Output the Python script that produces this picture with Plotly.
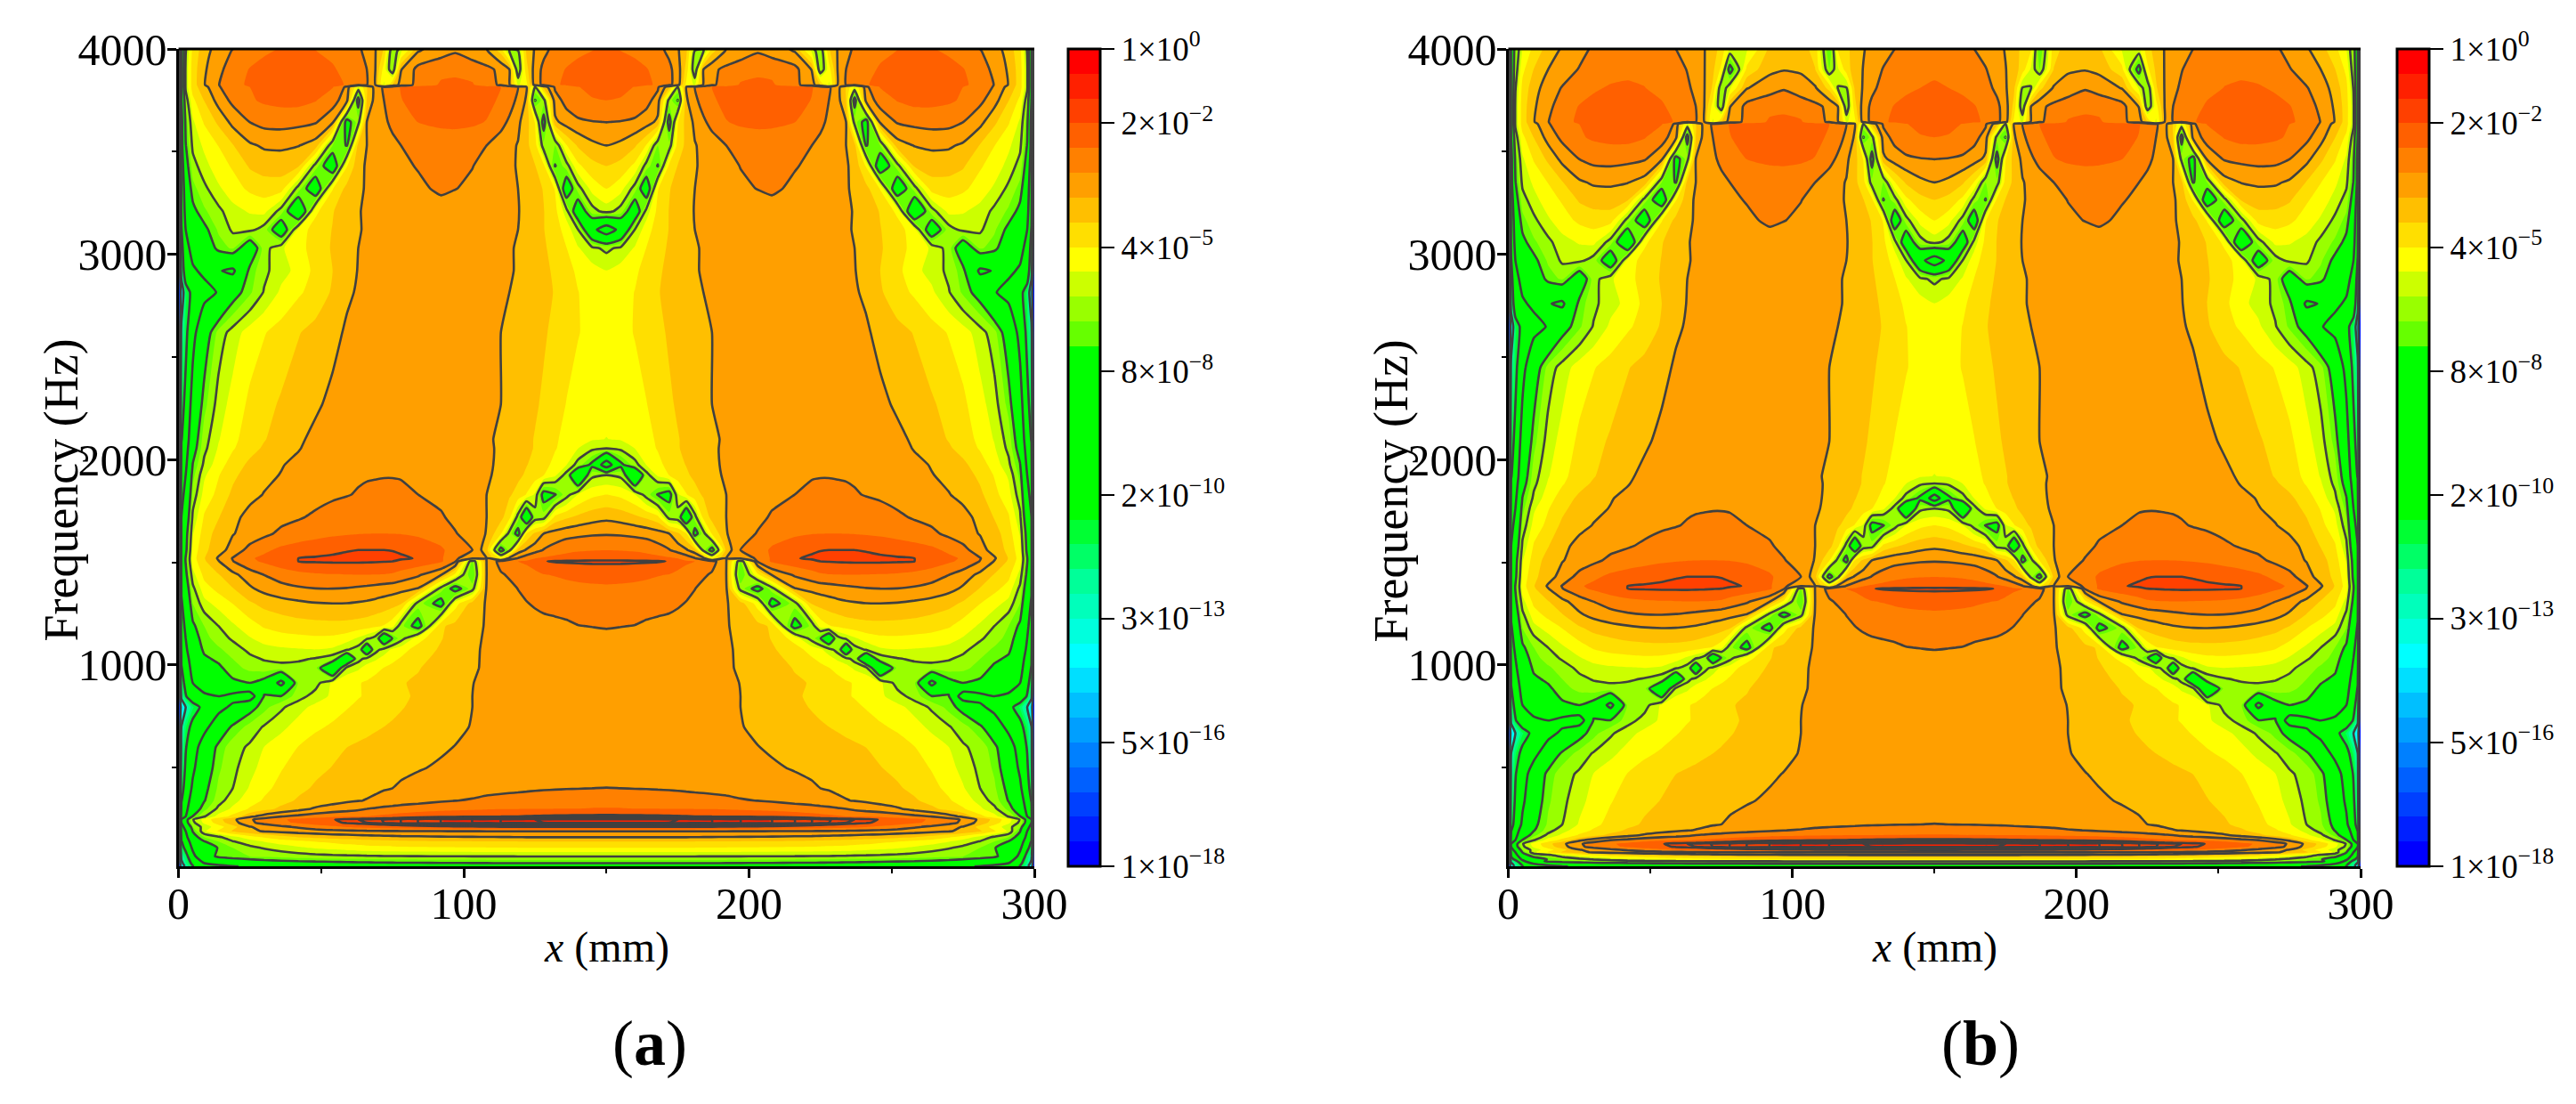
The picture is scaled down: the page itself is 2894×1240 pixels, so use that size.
import numpy as np
import plotly.graph_objects as go

# x positions (mm) of the table columns, left half of the plate; the field is symmetric about 150 mm
x_half = [0, 1, 2.5, 5, 9, 14, 19, 25, 30, 36, 42, 48, 54, 59, 63, 66, 69, 72, 75, 78, 84, 92, 97, 103, 108, 113,
          116, 119, 122, 125, 128, 132, 136, 140, 145, 150]

# frequency of each table row, top to bottom, read separately for the two panels
freq_a = [4180, 4080, 3990, 3900, 3825, 3815, 3750, 3645, 3530, 3430, 3320, 3210, 3120, 3030, 2920, 2815, 2620, 2270,
          2100, 2055, 1975, 1925, 1830, 1720, 1640, 1560, 1520, 1505, 1440, 1372, 1300, 1190, 1130, 1075, 1030, 986, 913,
          848, 795, 700, 600, 500, 400, 340, 300, 263, 248, 232, 212, 191, 162, 140, 110, 68, 35, 20]
freq_b = [4000, 3900, 3810, 3720, 3645, 3635, 3570, 3465, 3350, 3265, 3165, 3060, 2970, 2880, 2760, 2648, 2450, 2090,
          1920, 1884, 1812, 1762, 1680, 1580, 1510, 1430, 1385, 1372, 1310, 1245, 1180, 1085, 1035, 985, 932, 885, 805,
          730, 668, 570, 470, 340, 224, 195, 172, 148, 130, 115, 100, 88, 75, 64, 54, 44, 32, 20]

log_amp = [
    [-18, -8, -6, -4.9, -4.2, -3.6, -3.2, -2.9, -2.65, -2.5, -2.4, -2.35, -2.5, -2.73, -2.95, -3.1, -3.25, -3.6, -4, -5, -5, -3.7, -3.5, -3.6, -4, -6.5, -4.3, -3.95, -3.6, -3.3, -3.12, -2.93, -2.73, -2.6, -2.5, -2.42],
    [-18, -8, -5.8, -4.5, -3.8, -3.27, -2.98, -2.7, -2.5, -2.4, -2.3, -2.3, -2.4, -2.55, -2.75, -3, -3.25, -3.7, -4.5, -7, -4.2, -3.4, -3.3, -3.35, -3.8, -6, -5, -4.1, -3.5, -3.25, -3, -2.7, -2.5, -2.4, -2.3, -2.27],
    [-18, -8, -5.5, -4.2, -3.5, -2.98, -2.7, -2.45, -2.26, -2.12, -2.1, -2.17, -2.35, -2.5, -2.65, -2.85, -3.25, -3.9, -6, -5, -3.3, -2.95, -2.78, -3, -3.2, -4, -5.5, -5.5, -3.7, -3.2, -2.85, -2.55, -2.4, -2.3, -2.18, -2.12],
    [-18, -8, -5.3, -4.1, -3.35, -2.85, -2.5, -2.15, -2, -1.9, -1.88, -1.92, -2.1, -2.4, -2.6, -2.73, -3.27, -4.6, -6, -3.3, -2.55, -2.35, -2.32, -2.45, -2.6, -2.85, -3.27, -6, -4, -3, -2.6, -2.35, -2.15, -2, -1.92, -1.9],
    [-18, -8, -5.3, -4.1, -3.3, -2.75, -2.35, -2.1, -1.95, -1.85, -1.85, -1.9, -2.05, -2.22, -2.5, -2.7, -3.27, -5, -3.8, -3, -2.6, -2.1, -2.05, -2.12, -2.55, -2.8, -3.2, -5, -4.5, -3, -2.6, -2.25, -2.1, -2, -1.9, -1.85],
    [-18, -8, -5.3, -4.1, -3.45, -2.78, -2.4, -2.18, -2.05, -1.95, -1.9, -1.95, -2.15, -2.85, -5, -3.8, -3.05, -2.65, -2.4, -2.15, -1.95, -1.85, -1.85, -1.9, -2, -2.18, -2.45, -2.73, -3.27, -5.5, -3.6, -2.65, -2.4, -2.2, -2.05, -2],
    [-18, -8.5, -5.8, -4.5, -3.8, -3.05, -2.6, -2.25, -2.1, -2.02, -2, -2.15, -2.5, -3.05, -7, -3.8, -3.05, -2.73, -2.45, -2.2, -2, -1.95, -1.95, -2, -2.05, -2.25, -2.5, -2.85, -3.35, -6.6, -5.7, -2.95, -2.55, -2.35, -2.22, -2.18],
    [-18, -9, -6.3, -5, -4.3, -3.7, -3.1, -2.72, -2.55, -2.52, -2.58, -2.68, -3.1, -7, -5.7, -3.27, -3, -2.82, -2.62, -2.45, -2.17, -2.08, -2.07, -2.1, -2.2, -2.55, -2.82, -3.15, -3.6, -4.4, -7, -3.4, -3, -2.82, -2.75, -2.72],
    [-18, -9, -6.6, -5.3, -4.8, -4.35, -3.85, -3.35, -3.2, -3.18, -3.25, -3.5, -6, -6.6, -3.6, -3.27, -3.15, -3, -2.85, -2.73, -2.55, -2.45, -2.43, -2.5, -2.73, -3, -3.15, -3.3, -3.7, -4.1, -5.8, -6, -4.4, -3.75, -3.4, -3.27],
    [-18, -9.5, -7, -5.7, -5.1, -4.6, -4.3, -3.75, -3.58, -3.55, -3.75, -5.7, -7.5, -4.4, -3.45, -3.2, -3.1, -3, -2.92, -2.82, -2.7, -2.6, -2.62, -2.72, -2.85, -3.1, -3.2, -3.3, -3.55, -3.8, -4.2, -6.6, -5.7, -4.5, -4, -3.82],
    [-18, -10, -7.5, -6.2, -5.6, -5, -4.6, -4.25, -4.1, -4.12, -5.7, -7.5, -4.4, -3.65, -3.4, -3.2, -3.12, -3.05, -3, -2.95, -2.82, -2.65, -2.72, -2.8, -2.95, -3.1, -3.2, -3.27, -3.45, -3.65, -3.85, -4.4, -7.5, -5.7, -4.7, -4.36],
    [-18, -10, -8, -6.8, -6.1, -5.6, -5.1, -4.85, -4.75, -5.7, -8, -4.5, -3.85, -3.55, -3.3, -3.2, -3.15, -3.12, -3.08, -3.03, -2.97, -2.92, -2.94, -3, -3.05, -3.15, -3.2, -3.25, -3.4, -3.6, -3.8, -4.2, -5.2, -7.5, -5.7, -5.2],
    [-18, -10.5, -8.5, -7.4, -6.8, -5.9, -5.35, -5.3, -5.7, -7.5, -4.7, -4.1, -3.8, -3.5, -3.3, -3.22, -3.18, -3.15, -3.12, -3.09, -3.04, -3, -3.02, -3.05, -3.1, -3.17, -3.22, -3.27, -3.42, -3.6, -3.8, -4.1, -4.6, -5.4, -8, -9.5],
    [-18, -11, -9, -8, -7.4, -6.3, -5.9, -7.5, -5.7, -5, -4.5, -4.2, -3.75, -3.5, -3.27, -3.25, -3.22, -3.19, -3.16, -3.13, -3.09, -3.06, -3.08, -3.1, -3.12, -3.2, -3.24, -3.3, -3.44, -3.6, -3.75, -4, -4.35, -4.85, -5.3, -5.6],
    [-18, -11.5, -9.5, -8.7, -8.2, -8.4, -8.8, -6.3, -5.6, -5.1, -4.75, -4.2, -3.82, -3.45, -3.25, -3.2, -3.18, -3.16, -3.14, -3.12, -3.1, -3.08, -3.09, -3.11, -3.14, -3.2, -3.24, -3.3, -3.42, -3.55, -3.7, -3.9, -4.2, -4.45, -4.7, -4.9],
    [-18, -14, -11, -10, -9, -8.4, -7, -6.1, -5.4, -4.8, -4.45, -4.15, -3.75, -3.35, -3.22, -3.19, -3.17, -3.15, -3.13, -3.12, -3.1, -3.08, -3.1, -3.12, -3.15, -3.22, -3.27, -3.32, -3.42, -3.55, -3.68, -3.85, -4.1, -4.35, -4.55, -4.65],
    [-18, -12, -10.8, -9, -7.2, -5.8, -5.2, -4.65, -4.4, -4.15, -3.85, -3.65, -3.42, -3.2, -3.15, -3.12, -3.11, -3.1, -3.09, -3.08, -3.07, -3.06, -3.07, -3.1, -3.15, -3.27, -3.36, -3.45, -3.55, -3.65, -3.75, -3.95, -4.15, -4.33, -4.55, -4.65],
    [-18, -11, -10, -7.8, -6.2, -5.2, -4.7, -4.25, -4, -3.75, -3.55, -3.35, -3.15, -3.08, -3.05, -3.04, -3.03, -3.02, -3.01, -3, -3, -3, -3.04, -3.1, -3.2, -3.27, -3.4, -3.5, -3.6, -3.75, -3.9, -4.15, -4.38, -4.6, -4.7, -4.75],
    [-18, -10.5, -9.5, -7.2, -5.7, -4.95, -4.5, -4.1, -3.85, -3.6, -3.35, -3.15, -3, -2.95, -2.93, -2.92, -2.91, -2.9, -2.9, -2.9, -2.92, -2.95, -2.98, -3.05, -3.2, -3.35, -3.5, -3.6, -3.7, -3.85, -4, -4.3, -4.5, -4.7, -4.85, -4.92],
    [-18, -10.2, -9.2, -7, -5.6, -4.85, -4.42, -4, -3.75, -3.5, -3.3, -3.1, -2.95, -2.88, -2.86, -2.85, -2.84, -2.83, -2.83, -2.84, -2.86, -2.9, -2.95, -3.03, -3.18, -3.35, -3.5, -3.6, -3.72, -3.85, -4.05, -4.32, -4.6, -4.9, -5.3, -5.45],
    [-18, -9.8, -8.8, -6.5, -5.3, -4.6, -4.1, -3.7, -3.5, -3.3, -3.15, -3, -2.88, -2.8, -2.77, -2.76, -2.75, -2.74, -2.74, -2.75, -2.78, -2.85, -2.92, -3, -3.2, -3.35, -3.5, -3.62, -3.8, -3.95, -4.15, -4.55, -4.9, -5.7, -6.8, -9.5],
    [-18, -9.5, -8.5, -6.2, -5, -4.4, -3.95, -3.55, -3.38, -3.25, -3.08, -2.95, -2.85, -2.8, -2.78, -2.77, -2.76, -2.75, -2.75, -2.76, -2.8, -2.88, -2.95, -3.05, -3.2, -3.4, -3.55, -3.7, -3.9, -4.1, -4.35, -4.8, -5.7, -8.5, -5.6, -5.45],
    [-18, -9, -8, -5.8, -4.7, -4.2, -3.7, -3.4, -3.25, -3.1, -3, -2.9, -2.8, -2.75, -2.7, -2.65, -2.63, -2.62, -2.62, -2.64, -2.73, -2.85, -2.95, -3.08, -3.27, -3.55, -3.75, -4, -4.4, -5, -7, -6.6, -5.7, -4.9, -4.5, -4.36],
    [-18, -8.5, -7.5, -5.3, -4.3, -3.85, -3.4, -3.12, -3, -2.88, -2.78, -2.65, -2.55, -2.5, -2.47, -2.45, -2.44, -2.44, -2.45, -2.47, -2.55, -2.68, -2.85, -3.07, -3.27, -3.65, -4.2, -5.7, -8, -5.8, -5.7, -4.2, -3.9, -3.7, -3.5, -3.4],
    [-18, -8.2, -7, -4.95, -4.1, -3.6, -3.3, -3.05, -2.85, -2.62, -2.48, -2.38, -2.28, -2.23, -2.2, -2.19, -2.18, -2.18, -2.19, -2.2, -2.28, -2.43, -2.7, -2.96, -3.3, -4.3, -5.7, -7, -4.3, -3.7, -3.27, -3.05, -2.92, -2.86, -2.8, -2.78],
    [-18, -8, -6.8, -4.7, -3.95, -3.5, -3.05, -2.55, -2.3, -2.05, -1.92, -1.82, -1.72, -1.66, -1.64, -1.64, -1.64, -1.64, -1.65, -1.68, -1.8, -2.1, -2.42, -2.73, -3.6, -7, -5.7, -3.6, -3.2, -2.95, -2.7, -2.5, -2.33, -2.25, -2.21, -2.19],
    [-18, -7.8, -6.5, -4.6, -3.85, -3.2, -2.7, -2.25, -2.05, -1.8, -1.64, -1.6, -1.58, -1.57, -1.57, -1.57, -1.57, -1.57, -1.58, -1.6, -1.66, -2.1, -2.65, -3.05, -3.27, -4.5, -3.1, -2.7, -2.45, -2.2, -2.1, -2, -1.95, -1.9, -1.85, -1.85],
    [-18, -7.8, -6.5, -4.65, -3.9, -3.3, -2.75, -2.3, -2.1, -1.85, -1.64, -1.6, -1.58, -1.58, -1.58, -1.59, -1.6, -1.62, -1.64, -1.7, -1.85, -2.1, -2.65, -6, -3.25, -2.5, -2.3, -2.18, -2.1, -1.95, -1.66, -1.6, -1.58, -1.57, -1.56, -1.56],
    [-18, -8, -6.8, -5.1, -4.2, -3.85, -3.4, -3, -2.72, -2.5, -2.35, -2.25, -2.21, -2.19, -2.18, -2.18, -2.19, -2.2, -2.25, -2.4, -2.65, -3.2, -4.5, -6.5, -3.27, -2.8, -2.65, -2.5, -2.4, -2.3, -2.2, -2.15, -2.08, -2.02, -1.97, -1.95],
    [-18, -8.3, -7.2, -5.6, -4.6, -4.2, -3.85, -3.35, -3.1, -2.9, -2.8, -2.74, -2.73, -2.76, -2.82, -2.87, -2.93, -3, -3.05, -3.12, -3.3, -5.7, -7, -5.7, -3.2, -3.05, -2.88, -2.72, -2.62, -2.52, -2.45, -2.4, -2.36, -2.33, -2.3, -2.28],
    [-18, -8.7, -7.6, -6, -5.1, -4.7, -4.35, -3.9, -3.65, -3.5, -3.38, -3.3, -3.27, -3.28, -3.32, -3.36, -3.42, -3.5, -3.6, -3.75, -5.7, -7, -4.6, -3.6, -3.22, -3.05, -2.97, -2.85, -2.75, -2.68, -2.62, -2.58, -2.55, -2.53, -2.52, -2.5],
    [-18, -9.2, -8.2, -6.7, -6, -5.45, -5, -4.6, -4.3, -4.15, -4.05, -4, -3.98, -4, -4.05, -4.12, -4.25, -4.4, -4.7, -5.8, -7, -3.9, -3.65, -3.45, -3.22, -3.1, -3.05, -3, -2.95, -2.9, -2.87, -2.84, -2.8, -2.74, -2.72, -2.7],
    [-18, -9.5, -8.5, -7, -6.2, -5.75, -5.35, -4.95, -4.7, -4.55, -4.5, -4.45, -4.48, -4.65, -5, -5.3, -5.7, -8, -6.5, -5.7, -4.6, -3.85, -3.6, -3.4, -3.2, -3.1, -3.06, -3.03, -2.99, -2.95, -2.93, -2.9, -2.87, -2.85, -2.84, -2.83],
    [-18, -9.8, -8.8, -7.3, -6.4, -6.1, -5.75, -5.3, -5.1, -5, -4.95, -4.92, -5, -5.4, -5.7, -8, -5.7, -5.2, -4.8, -4.6, -4.1, -3.75, -3.55, -3.35, -3.2, -3.1, -3.07, -3.04, -3.02, -3, -2.98, -2.96, -2.94, -2.93, -2.92, -2.92],
    [-18, -10.2, -9.2, -7.6, -6.7, -6.4, -6, -5.6, -5.4, -5.3, -5.35, -5.5, -5.8, -8.5, -5.7, -5.2, -5, -4.7, -4.5, -4.3, -3.97, -3.65, -3.5, -3.34, -3.2, -3.11, -3.08, -3.05, -3.03, -3.02, -3, -2.99, -2.97, -2.97, -2.96, -2.96],
    [-18, -10.5, -9.5, -7.9, -7, -6.7, -6.2, -5.85, -5.7, -5.65, -5.7, -5.8, -8.5, -5.2, -5, -4.7, -4.5, -4.35, -4.2, -4.1, -3.85, -3.6, -3.45, -3.33, -3.2, -3.12, -3.09, -3.07, -3.05, -3.04, -3.03, -3.02, -3.01, -3, -3, -3],
    [-18, -11, -10, -8.5, -7.6, -7.2, -6.7, -6.55, -6.9, -9, -5.9, -5.7, -4.8, -4.55, -4.4, -4.3, -4.2, -4.05, -3.95, -3.85, -3.75, -3.5, -3.38, -3.28, -3.18, -3.13, -3.11, -3.1, -3.09, -3.08, -3.07, -3.06, -3.05, -3.05, -3.04, -3.04],
    [-18, -12, -10.5, -9.5, -8.8, -8.5, -9, -9.5, -6.5, -6.5, -5.7, -5.2, -4.8, -4.55, -4.4, -4.3, -4.2, -4.1, -4, -3.9, -3.75, -3.5, -3.38, -3.27, -3.2, -3.14, -3.12, -3.11, -3.1, -3.09, -3.08, -3.08, -3.07, -3.07, -3.06, -3.06],
    [-18, -14, -12.5, -11, -10, -9, -8.2, -6.9, -6.2, -5.55, -5.1, -4.75, -4.55, -4.4, -4.25, -4.15, -4.1, -4, -3.95, -3.85, -3.7, -3.5, -3.38, -3.27, -3.2, -3.15, -3.13, -3.12, -3.11, -3.1, -3.09, -3.09, -3.08, -3.08, -3.08, -3.08],
    [-18, -12.5, -11, -10, -9, -7.5, -6.4, -5.8, -5.4, -5.05, -4.7, -4.45, -4.3, -4.1, -4, -3.95, -3.88, -3.82, -3.75, -3.7, -3.6, -3.45, -3.35, -3.25, -3.2, -3.15, -3.13, -3.12, -3.11, -3.1, -3.09, -3.08, -3.08, -3.07, -3.06, -3.06],
    [-18, -12, -10.5, -9.3, -7.6, -6.3, -5.7, -5.35, -4.9, -4.6, -4.35, -4.15, -3.95, -3.82, -3.75, -3.7, -3.65, -3.6, -3.55, -3.5, -3.42, -3.32, -3.26, -3.2, -3.16, -3.13, -3.11, -3.1, -3.09, -3.08, -3.07, -3.07, -3.06, -3.06, -3.05, -3.05],
    [-18, -11.5, -10.2, -8.8, -7.2, -6.1, -5.6, -5.1, -4.7, -4.4, -4.15, -3.95, -3.8, -3.7, -3.6, -3.55, -3.5, -3.45, -3.4, -3.35, -3.3, -3.22, -3.18, -3.15, -3.12, -3.1, -3.09, -3.08, -3.07, -3.06, -3.06, -3.05, -3.05, -3.05, -3.04, -3.04],
    [-18, -11, -9.8, -8.2, -6.8, -5.9, -5.45, -4.85, -4.5, -4.2, -3.95, -3.75, -3.6, -3.48, -3.42, -3.38, -3.34, -3.3, -3.27, -3.22, -3.14, -3.06, -3.02, -2.98, -2.95, -2.93, -2.9, -2.88, -2.85, -2.82, -2.8, -2.78, -2.76, -2.75, -2.73, -2.72],
    [-18, -10.5, -9.2, -7.8, -6.6, -5.7, -5.1, -4.6, -4.3, -4, -3.75, -3.6, -3.45, -3.35, -3.29, -3.25, -3.2, -3.13, -3.07, -3, -2.92, -2.8, -2.74, -2.68, -2.58, -2.5, -2.47, -2.44, -2.41, -2.38, -2.36, -2.34, -2.32, -2.3, -2.28, -2.27],
    [-18, -10, -9, -7.2, -6.2, -5.3, -4.8, -4.3, -4, -3.7, -3.45, -3.2, -3.05, -2.95, -2.85, -2.73, -2.67, -2.6, -2.55, -2.5, -2.42, -2.33, -2.29, -2.26, -2.23, -2.21, -2.2, -2.2, -2.19, -2.19, -2.19, -2.18, -2.18, -2.18, -2.17, -2.17],
    [-18, -9.5, -8.5, -6.5, -5.5, -4.7, -4.2, -3.4, -3.05, -2.75, -2.6, -2.45, -2.32, -2.25, -2.22, -2.18, -2.12, -2.05, -2, -1.95, -1.85, -1.78, -1.75, -1.72, -1.7, -1.68, -1.66, -1.64, -1.62, -1.6, -1.58, -1.56, -1.55, -1.54, -1.53, -1.52],
    [-18, -8.5, -7, -5.5, -4.7, -4, -3.4, -2.8, -2.5, -2.25, -2.05, -1.85, -1.66, -1.55, -1.5, -1.47, -1.43, -1.39, -1.35, -1.3, -1.2, -1.1, -1.05, -1, -0.95, -0.9, -0.88, -0.85, -0.82, -0.8, -0.78, -0.76, -0.75, -0.74, -0.73, -0.72],
    [-18, -8.5, -7, -5.6, -4.8, -4.1, -3.5, -2.85, -2.55, -2.3, -2.1, -1.9, -1.72, -1.6, -1.53, -1.5, -1.45, -1.4, -1.36, -1.3, -1.2, -1.1, -1.05, -1, -0.95, -0.9, -0.88, -0.86, -0.84, -0.82, -0.8, -0.78, -0.77, -0.76, -0.75, -0.74],
    [-18, -9, -8, -6, -5.2, -4.6, -4, -3.3, -3.1, -2.85, -2.65, -2.45, -2.3, -2.15, -2.05, -2, -1.95, -1.9, -1.88, -1.85, -1.8, -1.75, -1.72, -1.7, -1.68, -1.66, -1.65, -1.64, -1.64, -1.64, -1.64, -1.64, -1.63, -1.63, -1.62, -1.62],
    [-18, -9.5, -8.5, -6.5, -5, -4.3, -3.75, -3.4, -3.22, -3.12, -3.03, -2.95, -2.88, -2.85, -2.83, -2.8, -2.78, -2.77, -2.76, -2.75, -2.74, -2.73, -2.725, -2.72, -2.72, -2.72, -2.72, -2.72, -2.72, -2.72, -2.72, -2.72, -2.72, -2.72, -2.72, -2.72],
    [-18, -10, -9, -7, -6, -5.55, -5.1, -4.6, -4.3, -4, -3.8, -3.7, -3.6, -3.55, -3.5, -3.47, -3.45, -3.42, -3.4, -3.38, -3.36, -3.33, -3.31, -3.3, -3.29, -3.28, -3.28, -3.27, -3.26, -3.26, -3.26, -3.26, -3.26, -3.26, -3.26, -3.26],
    [-18, -10.5, -9.5, -7.6, -6.6, -6, -5.5, -5.15, -4.9, -4.65, -4.5, -4.35, -4.25, -4.15, -4.1, -4.05, -4.02, -4, -3.97, -3.95, -3.92, -3.89, -3.87, -3.86, -3.85, -3.84, -3.84, -3.83, -3.83, -3.83, -3.83, -3.82, -3.82, -3.82, -3.82, -3.82],
    [-18, -11, -10, -8.2, -7.1, -6.5, -6, -5.6, -5.4, -5.2, -5, -4.85, -4.75, -4.65, -4.6, -4.55, -4.52, -4.5, -4.48, -4.46, -4.44, -4.42, -4.41, -4.4, -4.39, -4.38, -4.38, -4.37, -4.37, -4.37, -4.37, -4.36, -4.36, -4.36, -4.36, -4.36],
    [-18, -12, -11, -9, -7, -6.4, -6.2, -6, -5.9, -5.8, -5.72, -5.65, -5.6, -5.57, -5.55, -5.53, -5.52, -5.5, -5.5, -5.49, -5.48, -5.47, -5.465, -5.46, -5.46, -5.46, -5.46, -5.45, -5.45, -5.45, -5.45, -5.45, -5.45, -5.45, -5.45, -5.45],
    [-18, -13, -11.5, -10, -8.5, -7.8, -7.5, -7.3, -7.1, -7, -6.9, -6.85, -6.8, -6.75, -6.72, -6.7, -6.68, -6.66, -6.65, -6.63, -6.62, -6.6, -6.59, -6.58, -6.57, -6.56, -6.56, -6.56, -6.56, -6.55, -6.55, -6.55, -6.55, -6.55, -6.55, -6.55],
    [-18, -14, -12, -10.5, -9.5, -9, -8.6, -8.3, -8.1, -8, -7.9, -7.8, -7.7, -7.65, -7.6, -7.58, -7.56, -7.54, -7.52, -7.5, -7.48, -7.46, -7.45, -7.44, -7.43, -7.42, -7.42, -7.41, -7.41, -7.4, -7.4, -7.4, -7.4, -7.4, -7.4, -7.4],
]

# colour of each of the 33 bands, from the bottom of the colour bar (1e-18) to its top (1e0)
band_colors = ["#0000ff", "#0020ff", "#0040ff", "#0060ff", "#0080ff", "#009fff", "#00bfff", "#00dfff", "#00ffff",
               "#00ffdd", "#00ffbb", "#00ff99", "#00ff66", "#00ff33", "#00ff00", "#00ff00", "#00ff00", "#00ff00",
               "#00ff00", "#00ff00", "#00ff00", "#66ff00", "#99ff00", "#ccff00", "#ffff00", "#ffdf00", "#ffbf00",
               "#ff9f00", "#ff8000", "#ff6000", "#ff4000", "#ff2000", "#ff0000"]

# levels where the original draws dark contour lines
line_levels = [-15, -12.5, -10.4, -8.5, -6.55, -5.45, -3.27, -2.73, -1.64]
# stacked lines of the thick dark core at the lowest resonance
core_levels = [-1.5, -1.4, -1.3, -1.2, -1.1, -1.0, -0.9, -0.8]

bar_vals = [0, -1.63, -4.37, -7.1, -9.83, -12.54, -15.27, -18]
bar_text = ["1×10<sup>0</sup>", "2×10<sup>−2</sup>", "4×10<sup>−5</sup>", "8×10<sup>−8</sup>", "2×10<sup>−10</sup>",
            "3×10<sup>−13</sup>", "5×10<sup>−16</sup>", "1×10<sup>−18</sup>"]

FONT = "Liberation Serif"
W, H = 2894, 1240
LINE = "#404040"

half = np.array(log_amp)
z = np.hstack([half, half[:, -2::-1]])[::-1]
x = x_half + [300 - v for v in x_half[-2::-1]]

# stepped scale: plotly maps band k to (k + 1) / 34 when it fills a contour
n = len(band_colors)
scale = []
for k, c in enumerate(band_colors):
    lo = 0 if k == 0 else (k + 0.5) / (n + 1)
    hi = 1 if k == n - 1 else (k + 1.5) / (n + 1)
    scale += [[lo, c], [hi, c]]

panels = [
    dict(freq=freq_a, xa="x", ya="y", left=200.6, right=1162, bar_x=1200, label="(<b>a</b>)", label_x=730),
    dict(freq=freq_b, xa="x2", ya="y2", left=1694.5, right=2652, bar_x=2693, label="(<b>b</b>)", label_x=2225),
]
top, bottom = 55, 973


def note(text, px, py, size, angle=0):
    return dict(text=text, x=px / W, y=1 - py / H, xref="paper", yref="paper", xanchor="center", yanchor="middle",
                textangle=angle, showarrow=False, font=dict(family=FONT, size=size, color="black"))


fig = go.Figure()
annotations = []
for p in panels:
    y = p["freq"][::-1]
    fig.add_trace(go.Contour(
        x=x, y=y, z=z, xaxis=p["xa"], yaxis=p["ya"],
        colorscale=scale, zmin=-18, zmax=0,
        contours=dict(start=-18, end=0, size=18 / n, coloring="fill", showlines=False),
        line=dict(width=0, smoothing=0.5),
        hoverinfo="skip",
        colorbar=dict(
            x=p["bar_x"] / W, xanchor="left", xref="container", y=1 - bottom / H, yanchor="bottom", yref="container",
            thicknessmode="pixels", thickness=36, lenmode="pixels", len=bottom - top,
            outlinecolor="black", outlinewidth=3, xpad=0, ypad=0,
            ticks="outside", ticklen=15, tickwidth=1.5, tickcolor="black",
            tickmode="array", tickvals=bar_vals, ticktext=bar_text,
            tickfont=dict(family=FONT, size=37, color="black"),
        ),
    ))
    for level in line_levels + core_levels:
        fig.add_trace(go.Contour(
            x=x, y=y, z=z, xaxis=p["xa"], yaxis=p["ya"], showscale=False,
            autocontour=False,
            contours=dict(start=level, end=level, size=1, coloring="none"),
            line=dict(color=LINE, width=2.6, smoothing=0.5),
            hoverinfo="skip",
        ))
    mid = (p["left"] + p["right"]) / 2
    annotations.append(note("<i>x</i> (mm)", mid, 1064, 48))
    annotations.append(note("Frequency (Hz)", p["left"] - 132, 551, 54, angle=-90))
    annotations.append(note(p["label"], p["label_x"], 1172, 72))

x_style = dict(range=[0, 300], tickvals=[0, 100, 200, 300], ticks="outside", ticklen=10, tickwidth=2.5,
               tickcolor="black", showgrid=False, zeroline=False, showline=True, linecolor="black", linewidth=3,
               ticklabelstandoff=-14, tickfont=dict(family=FONT, size=50, color="black"),
               minor=dict(tickvals=[50, 150, 250], ticks="outside", ticklen=5, tickwidth=2, tickcolor="black"))
y_style = dict(range=[20, 4000], tickvals=[1000, 2000, 3000, 4000], ticks="outside", ticklen=10, tickwidth=2.5,
               tickcolor="black", showgrid=False, zeroline=False, showline=True, linecolor="black", linewidth=3,
               ticklabelstandoff=-10, tickfont=dict(family=FONT, size=50, color="black"),
               minor=dict(tickvals=[500, 1500, 2500, 3500], ticks="outside", ticklen=5, tickwidth=2, tickcolor="black"))

fig.update_layout(
    width=W, height=H, margin=dict(l=0, r=0, t=0, b=0, autoexpand=False), paper_bgcolor="white", plot_bgcolor="white",
    showlegend=False, annotations=annotations,
    xaxis=dict(domain=[200.6 / W, 1162 / W], anchor="y", **x_style),
    yaxis=dict(domain=[1 - bottom / H, 1 - top / H], anchor="x", **y_style),
    xaxis2=dict(domain=[1694.5 / W, 2652 / W], anchor="y2", **x_style),
    yaxis2=dict(domain=[1 - bottom / H, 1 - top / H], anchor="x2", **y_style),
)
# top edge line only, like the original frame
fig.add_shape(type="line", xref="paper", yref="paper", x0=200.6 / W, x1=1162 / W, y0=1 - top / H, y1=1 - top / H,
              line=dict(color="black", width=3))
fig.add_shape(type="line", xref="paper", yref="paper", x0=1694.5 / W, x1=2652 / W, y0=1 - top / H, y1=1 - top / H,
              line=dict(color="black", width=3))
fig.write_html("out.html", config=dict(displayModeBar=False), post_script="document.body.style.margin='0';")
